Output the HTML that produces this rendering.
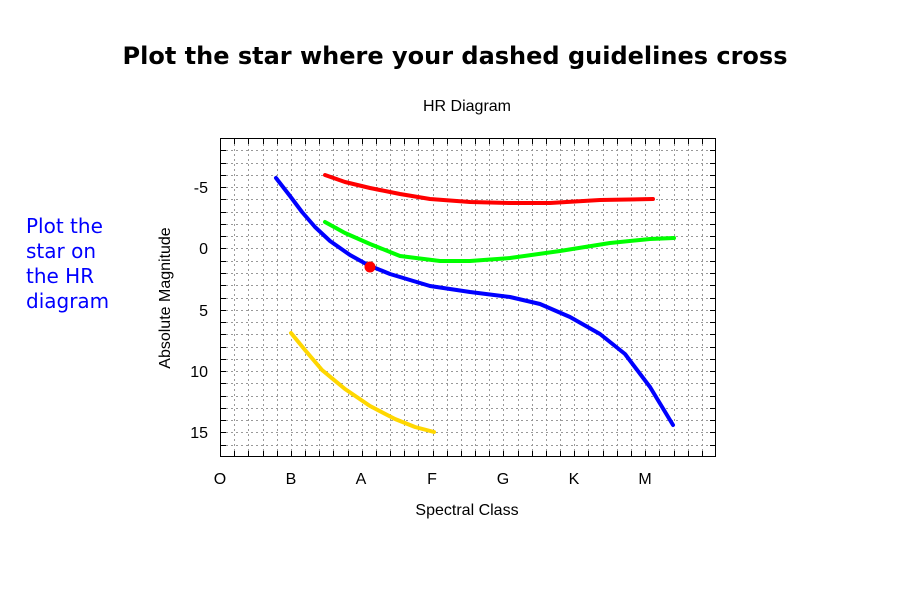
<!DOCTYPE html>
<html><head><meta charset="utf-8"><style>
body{margin:0;background:#fff;width:900px;height:600px;overflow:hidden}
</style></head><body>
<svg width="900" height="600" xmlns="http://www.w3.org/2000/svg" font-family="Liberation Sans, sans-serif">
<rect width="900" height="600" fill="#fff"/>
<text x="455" y="64" text-anchor="middle" font-size="24" font-weight="bold" font-family="DejaVu Sans, sans-serif">Plot the star where your dashed guidelines cross</text>
<text x="467" y="111" text-anchor="middle" font-size="16">HR Diagram</text>
<g fill="#00f" font-size="20" font-family="DejaVu Sans, sans-serif">
<text x="26" y="233">Plot the</text><text x="26" y="258">star on</text><text x="26" y="283">the HR</text><text x="26" y="308">diagram</text>
</g>
<g stroke="#999" stroke-width="1" stroke-dasharray="2,3" id="g2"></g>
<g font-size="16" text-anchor="end">
<text x="208" y="193">-5</text><text x="208" y="254">0</text><text x="208" y="316">5</text><text x="208" y="377">10</text><text x="208" y="438">15</text>
</g>
<g font-size="16" text-anchor="middle">
<text x="220" y="484">O</text><text x="291" y="484">B</text><text x="361" y="484">A</text><text x="432" y="484">F</text><text x="503" y="484">G</text><text x="574" y="484">K</text><text x="645" y="484">M</text>
</g>
<text x="467" y="515" text-anchor="middle" font-size="16">Spectral Class</text>
<text transform="translate(170,298) rotate(-90)" text-anchor="middle" font-size="16">Absolute Magnitude</text>
<g fill="none" stroke-width="4" stroke-linecap="round" stroke-linejoin="round">
<polyline stroke="#f00" points="325,175 345,182 370,188 400,194 430,199 470,202 510,203 550,203 600,200 653,199"/>
<polyline stroke="#0f0" points="325,222 345,233 370,244 400,256 440,261 470,261 510,258 560,251 610,243 650,239 674,238"/>
<polyline stroke="#00f" points="276,178 290,196 302,212 315,227 330,241 350,255 368,265 390,274 430,286 470,292 510,297 540,304 570,317 600,334 625,354 650,387 673,425"/>
<polyline stroke="#ffd700" points="291,333 305,350 322,370 345,389 370,406 395,419 415,427 434,432"/>
</g>
<circle cx="370" cy="267" r="5.5" fill="#f00"/>
<rect x="220.5" y="138.5" width="495" height="318" fill="none" stroke="#000" stroke-width="1"/>
</svg>
<script>
var ns="http://www.w3.org/2000/svg",g=document.getElementById("g2");
function L(x1,y1,x2,y2,dash){var l=document.createElementNS(ns,"line");l.setAttribute("x1",x1);l.setAttribute("y1",y1);l.setAttribute("x2",x2);l.setAttribute("y2",y2);if(!dash){l.setAttribute("stroke","#000");l.setAttribute("stroke-dasharray","none");}g.appendChild(l);}
for(var i=1;i<35;i++){var x=Math.round(220+i*70.86/5)+0.5;L(x,139,x,456,1);L(x,139,x,144,0);L(x,451,x,456,0);}
for(var j=1;j<26;j++){var y=Math.round(138+j*12.27)+0.5;L(221,y,715,y,1);L(221,y,226,y,0);L(710,y,715,y,0);}
</script>
</body></html>
